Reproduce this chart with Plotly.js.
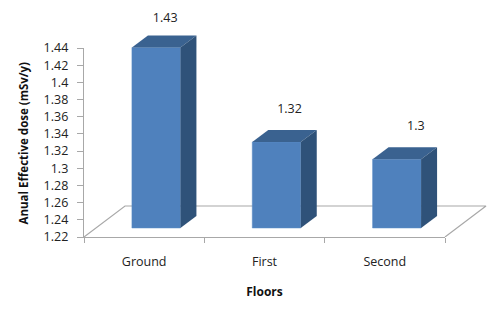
<!DOCTYPE html>
<html><head><meta charset="utf-8">
<script src="https://cdn.plot.ly/plotly-3.0.1.min.js"></script>
<style>html,body{margin:0;padding:0;background:#fff}#c{width:500px;height:317px}</style>
</head><body><div id="c"></div>
<script>
const categories = ["Ground", "First", "Second"];
const doses = [1.43, 1.32, 1.3];
const labels = ["1.43", "1.32", "1.3"];
const yTicks = [1.22,1.24,1.26,1.28,1.3,1.32,1.34,1.36,1.38,1.4,1.42,1.44];
const yTickText = ["1.22","1.24","1.26","1.28","1.3","1.32","1.34","1.36","1.38","1.4","1.42","1.44"];

const W = 500, H = 317, L = 84, R = 445, T = 48, B = 237, YMIN = 1.22, YMAX = 1.44;
const perCat = (R - L) / 3, perUnit = (B - T) / (YMAX - YMIN);
const dx = px => px / perCat, dy = px => px / perUnit;
// second coordinate system spans the canvas right of and above the axes, same scale
const xr = [-0.5, -0.5 + (W - L) / perCat], yr = [YMIN, YMIN + B / perUnit];
const base = YMIN + dy(9), barW = dx(48.5), shift = dx(12), dX = dx(16), dY = dy(12);
const FONT = "Open Sans, sans-serif", TXT = "#222";
const labelNudge = [dx(9), dx(13), dx(19)], labelRise = [dy(29), dy(32), dy(32)];

const traces = [];
// carrier for the visible axes
traces.push({type:"bar", x:categories, y:doses, xaxis:"x", yaxis:"y", opacity:0, hoverinfo:"skip", showlegend:false});
// floor
const fdx = dx(41), fdy = dy(31), fr = 2.5;
traces.push({type:"scatter", mode:"lines", xaxis:"x2", yaxis:"y2", showlegend:false, hoverinfo:"skip",
  x:[-0.5, -0.5+fdx, fr+fdx, fr], y:[YMIN, YMIN+fdy, YMIN+fdy, YMIN],
  line:{color:"#a8a8a8", width:1.2}});
// front faces
traces.push({type:"bar", xaxis:"x3", yaxis:"y3", showlegend:false, hoverinfo:"skip",
  x:categories.map((c,i)=>i+shift), y:doses.map(v=>v-YMIN), base:doses.map(()=>base),
  width:barW, marker:{color:"#4f81bd", line:{color:"#5a8cc6", width:0.5}}});
// top and side faces
categories.forEach((c,i)=>{
  const l = i+shift-barW/2, r = i+shift+barW/2, t = base+doses[i]-YMIN;
  traces.push({type:"scatter", mode:"lines", fill:"toself", fillcolor:"#3a6290", xaxis:"x3", yaxis:"y3",
    showlegend:false, hoverinfo:"skip", line:{width:0, color:"#3a6290"},
    x:[l, l+dX, r+dX, r, l], y:[t, t+dY, t+dY, t, t]});
  traces.push({type:"scatter", mode:"lines", fill:"toself", fillcolor:"#2f5279", xaxis:"x3", yaxis:"y3",
    showlegend:false, hoverinfo:"skip", line:{width:0, color:"#2f5279"},
    x:[r, r+dX, r+dX, r, r], y:[t, t+dY, base+dY, base, t]});
});
// value labels
traces.push({type:"scatter", mode:"text", xaxis:"x3", yaxis:"y3", showlegend:false, hoverinfo:"skip",
  x:categories.map((c,i)=>i+shift+labelNudge[i]), y:doses.map((v,i)=>base+v-YMIN+labelRise[i]),
  text:labels, textposition:"middle center", textfont:{family:FONT, size:12.5, color:TXT}, cliponaxis:false});

const ov = (dom, rng, a) => ({domain:dom, range:rng, visible:false, fixedrange:true, anchor:a});
const xd = [L/W, 1], yd = [(H-B)/H, 1];
const layout = {
  width:W, height:H, margin:{l:0,r:0,t:0,b:0}, paper_bgcolor:"#fff", plot_bgcolor:"rgba(0,0,0,0)",
  showlegend:false, font:{family:FONT, color:TXT}, bargap:0,
  xaxis:{type:"category", categoryorder:"array", categoryarray:categories, domain:[L/W,R/W], range:[-0.5,2.5], tickson:"boundaries",
    ticks:"outside", ticklen:5, tickcolor:"#a8a8a8", showline:true, linecolor:"#a8a8a8", linewidth:1.2, showgrid:false, zeroline:false,
    tickfont:{family:FONT,size:12.5,color:TXT}, ticklabelstandoff:13, fixedrange:true, anchor:"y",
    title:{text:"<b>Floors</b>", font:{family:FONT,size:12,color:"#111"}, standoff:18}},
  yaxis:{domain:[(H-B)/H,(H-T)/H], range:[YMIN,YMAX], tickvals:yTicks, ticktext:yTickText,
    ticks:"outside", ticklen:6, tickcolor:"#a8a8a8", showline:true, linecolor:"#a8a8a8", linewidth:1.2, showgrid:false, zeroline:false,
    tickfont:{family:FONT,size:12.5,color:TXT}, ticklabelstandoff:6, fixedrange:true, anchor:"x"},
  annotations:[{text:"<b>Anual Effective dose (mSv/y)</b>", xref:"paper", yref:"paper", x:22.5/W, y:(H-143)/H,
    xanchor:"center", yanchor:"middle", textangle:-90, showarrow:false, font:{family:FONT,size:11.5,color:"#111"}}],
  xaxis2:ov(xd,xr,"y2"), yaxis2:ov(yd,yr,"x2"),
  xaxis3:ov(xd,xr,"y3"), yaxis3:ov(yd,yr,"x3")
};
Plotly.newPlot("c", traces, layout, {displayModeBar:false, staticPlot:true});
</script></body></html>
